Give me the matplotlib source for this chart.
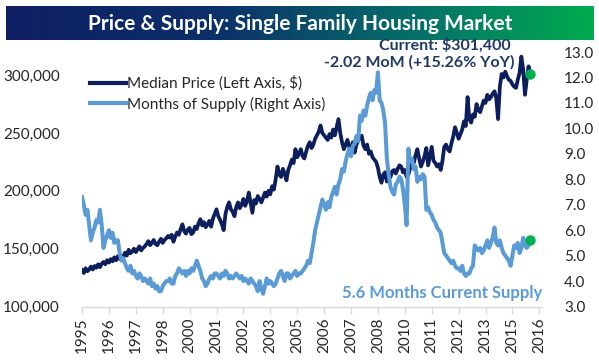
import numpy as np
import matplotlib
matplotlib.use("Agg")
import matplotlib.pyplot as plt
from matplotlib.colors import LinearSegmentedColormap
from matplotlib.lines import Line2D

plt.rcParams['font.family'] = ['Lato', 'DejaVu Sans']

# Monthly data, Jan 1995 .. Nov 2015
# Median price (thousands of $)
price_k = (
    [131.5, 129.0, 133.0, 130.5, 132.0, 134.5, 132.0, 135.0, 133.5, 136.5, 134.0, 137.0] +  # 1995
    [138.5, 136.5, 140.0, 138.0, 141.0, 139.0, 142.5, 140.0, 143.5, 141.0, 144.0, 142.5] +  # 1996
    [146.5, 144.0, 149.0, 146.0, 147.5, 150.0, 147.0, 149.5, 152.0, 148.5, 150.5, 152.0] +  # 1997
    [154.0, 156.5, 153.0, 155.0, 157.5, 154.0, 153.0, 156.0, 158.5, 155.0, 157.5, 159.0] +  # 1998
    [161.0, 159.5, 162.0, 156.0, 160.5, 164.0, 162.0, 167.0, 171.0, 165.0, 163.0, 166.5] +  # 1999
    [168.0, 162.5, 164.0, 169.0, 167.0, 172.0, 175.5, 170.0, 173.0, 168.5, 171.0, 174.0] +  # 2000
    [169.0, 176.0, 180.0, 184.0, 178.0, 175.0, 171.0, 166.0, 180.0, 186.0, 190.0, 184.0] +  # 2001
    [182.0, 178.0, 186.0, 190.0, 185.0, 188.0, 193.0, 187.0, 191.0, 198.5, 190.0, 181.0] +  # 2002
    [192.0, 189.0, 195.5, 193.0, 190.0, 194.0, 198.5, 195.0, 200.0, 197.0, 204.0, 201.0] +  # 2003
    [210.0, 221.0, 214.0, 212.0, 219.0, 215.0, 209.0, 218.0, 222.0, 227.0, 224.0, 236.0] +  # 2004
    [229.0, 232.0, 236.0, 230.0, 228.0, 234.0, 239.0, 242.0, 237.0, 240.0, 245.0, 248.0] +  # 2005
    [251.0, 256.5, 250.0, 248.0, 246.0, 244.0, 249.0, 246.0, 253.0, 248.0, 255.0, 262.0] +  # 2006
    [250.0, 242.0, 236.0, 240.0, 244.0, 238.0, 235.0, 242.0, 233.0, 240.0, 243.0, 247.0] +  # 2007
    [247.5, 239.0, 236.0, 240.0, 232.0, 234.0, 229.0, 227.0, 225.0, 220.0, 212.0, 207.0] +  # 2008
    [214.0, 216.0, 208.0, 210.0, 212.0, 217.0, 218.0, 215.0, 219.0, 222.0, 221.0, 216.0] +  # 2009
    [218.0, 212.0, 214.0, 220.0, 227.0, 224.0, 231.0, 236.0, 228.0, 221.0, 225.0, 230.0] +  # 2010
    [237.0, 222.0, 230.0, 238.0, 226.0, 224.0, 221.0, 223.0, 218.0, 226.0, 238.0, 240.0] +  # 2011
    [236.0, 234.0, 241.0, 247.0, 255.0, 250.0, 245.0, 249.0, 253.0, 260.0, 256.0, 281.0] +  # 2012
    [262.0, 259.0, 266.0, 264.0, 275.0, 270.0, 268.0, 273.0, 278.0, 276.0, 283.0, 279.0] +  # 2013
    [281.0, 284.0, 286.0, 280.0, 262.0, 290.0, 301.0, 298.0, 303.0, 299.0, 296.0, 295.0] +  # 2014
    [292.0, 290.0, 289.0, 296.0, 302.0, 316.0, 305.0, 283.0, 296.0, 307.6, 301.4]           # 2015
)

# Months of supply
supply = (
    [7.3, 7.0, 6.6, 6.8, 6.2, 5.6, 5.9, 6.1, 6.4, 6.3, 6.8, 6.2] +   # 1995
    [5.3, 5.6, 5.8, 6.0, 5.7, 5.9, 5.5, 5.6, 5.6, 5.1, 4.8, 4.9] +   # 1996
    [4.7, 4.5, 4.4, 4.6, 4.3, 4.4, 4.2, 4.1, 4.3, 4.2, 4.0, 4.1] +   # 1997
    [4.0, 3.9, 4.1, 3.8, 3.9, 3.7, 3.8, 3.6, 3.6, 3.8, 3.9, 4.0] +   # 1998
    [4.0, 4.1, 3.9, 3.9, 4.2, 4.3, 4.5, 4.4, 4.3, 4.4, 4.2, 4.4] +   # 1999
    [4.3, 4.5, 4.4, 4.6, 4.8, 4.6, 4.4, 4.1, 4.0, 3.8, 3.9, 4.1] +   # 2000
    [4.2, 4.1, 4.3, 4.3, 4.2, 4.1, 4.3, 4.2, 4.4, 4.3, 4.1, 4.2] +   # 2001
    [4.1, 4.2, 4.3, 4.2, 4.1, 4.2, 4.0, 4.1, 4.0, 3.9, 4.1, 4.0] +   # 2002
    [3.9, 3.8, 3.6, 4.0, 3.7, 3.5, 3.8, 4.1, 3.9, 4.0, 3.9, 3.8] +   # 2003
    [3.9, 4.1, 4.3, 4.4, 4.2, 4.0, 4.3, 4.3, 4.1, 4.2, 4.3, 4.4] +   # 2004
    [4.2, 4.3, 4.3, 4.4, 4.5, 4.6, 4.8, 4.7, 5.1, 5.5, 6.0, 6.3] +   # 2005
    [6.6, 6.9, 7.2, 7.0, 6.8, 7.1, 6.9, 7.3, 7.5, 7.7, 7.4, 7.8] +   # 2006
    [8.0, 8.4, 8.3, 8.7, 9.0, 9.2, 8.9, 9.3, 9.4, 9.7, 9.5, 10.5] +  # 2007
    [10.3, 10.7, 10.5, 10.9, 11.2, 11.4, 11.1, 11.5, 11.4, 12.2, 11.1, 11.0] +  # 2008
    [10.7, 10.2, 8.8, 8.2, 7.7, 7.5, 7.4, 7.8, 7.9, 8.1, 8.0, 7.6] +  # 2009
    [7.0, 6.2, 9.2, 8.7, 8.8, 8.4, 8.5, 7.9, 8.1, 8.0, 8.2, 8.1] +   # 2010
    [6.8, 6.9, 6.7, 6.6, 6.4, 6.3, 6.1, 6.0, 5.9, 5.5, 5.1, 5.0] +   # 2011
    [4.9, 4.8, 4.7, 4.8, 4.6, 4.5, 4.5, 4.4, 4.6, 4.3, 4.2, 4.3] +   # 2012
    [4.3, 4.5, 4.6, 5.4, 5.3, 5.2, 5.3, 5.1, 5.2, 5.4, 5.6, 5.3] +   # 2013
    [5.5, 5.7, 6.1, 5.5, 5.4, 5.6, 5.3, 5.1, 5.0, 4.9, 4.8, 4.6] +   # 2014
    [5.0, 5.4, 5.3, 5.5, 5.1, 5.3, 5.7, 5.4, 5.3, 5.4, 5.6]          # 2015
)

tick_labels = ['1995', '1996', '1997', '1998', '2000', '2001', '2002', '2003', '2005',
               '2006', '2007', '2008', '2010', '2011', '2012', '2013', '2015', '2016']
left_ticks = [100000, 150000, 200000, 250000, 300000]
right_ticks = [3.0, 4.0, 5.0, 6.0, 7.0, 8.0, 9.0, 10.0, 11.0, 12.0, 13.0]

title = "Price & Supply: Single Family Housing Market"
note_price_1 = "Current: $301,400"
note_price_2 = "-2.02 MoM (+15.26% YoY)"
note_supply = "5.6 Months Current Supply"

DARK = '#0c1f5c'
LIGHT = '#5b9bd5'
GREEN = '#00b050'
TXT = '#262626'

price = np.array(price_k) * 1000.0
supply = np.array(supply)
x = np.arange(len(price))

fig = plt.figure(figsize=(5.99, 3.63), dpi=100)
fig.patch.set_facecolor('white')

# Title banner with gradient
bax = fig.add_axes([6 / 599, 1 - 40 / 363, 588 / 599, 34 / 363])
cmap = LinearSegmentedColormap.from_list(
    'band', [(0, '#0f1f63'), (0.35, '#0c2f69'), (0.7, '#06706a'), (1, '#00ab4e')])
grad = np.linspace(0, 1, 512).reshape(1, -1)
bax.imshow(grad, aspect='auto', cmap=cmap, extent=[0, 1, 0, 1])
bax.set_axis_off()
bax.text(0.5, 0.48, title, color='white', fontsize=15, fontweight='bold',
         ha='center', va='center', transform=bax.transAxes)

L, R, B, T = 82 / 599, 542 / 599, 1 - 306.5 / 363, 1 - 52 / 363
ax = fig.add_axes([L, B, R - L, T - B])
ax2 = ax.twinx()

ax.plot(x, price, color=DARK, lw=2.7, solid_joinstyle='round', zorder=3)
ax2.plot(x, supply, color=LIGHT, lw=2.9, solid_joinstyle='round', zorder=3)
ax.scatter([x[-1]], [price[-1]], s=42, color=GREEN, zorder=5)
ax2.scatter([x[-1]], [supply[-1]], s=42, color=GREEN, zorder=5)

ax.set_xlim(0, 256.5)
ax.set_ylim(100000, 320000)
ax2.set_ylim(3.0, 13.0)

ax.set_yticks(left_ticks)
ax.set_yticklabels([f"{v:,}" for v in left_ticks])
ax2.set_yticks(right_ticks)
ax2.set_yticklabels([f"{v:.1f}" for v in right_ticks])

tick_pos = np.arange(len(tick_labels)) * 15
ax.set_xticks(tick_pos)
ax.set_xticklabels(tick_labels, rotation=90)

for a in (ax, ax2):
    for s in ('top', 'left', 'right', 'bottom'):
        a.spines[s].set_visible(False)
ax.spines['bottom'].set_visible(True)
ax.spines['bottom'].set_color('#d9d9d9')
ax.spines['bottom'].set_linewidth(1.0)

ax.tick_params(axis='x', colors='#d9d9d9', length=5, width=1.0, labelcolor=TXT,
               labelsize=11, pad=3)
ax.tick_params(axis='y', length=0, labelsize=11, labelcolor=TXT, pad=16)
ax2.tick_params(axis='y', length=0, labelsize=11, labelcolor=TXT, pad=16)

handles = [Line2D([0], [0], color=DARK, lw=3),
           Line2D([0], [0], color=LIGHT, lw=3)]
leg = ax.legend(handles, ['Median Price (Left Axis, $)', 'Months of Supply (Right Axis)'],
                loc='upper left', bbox_to_anchor=(0.005, 0.93), frameon=False,
                fontsize=11, handlelength=2.3, handletextpad=0.1, labelspacing=0.35,
                borderaxespad=0)
for t in leg.get_texts():
    t.set_color(TXT)

fig.text(445 / 599, 1 - 45 / 363, note_price_1, color='#1f3864', fontsize=11.5,
         fontweight='bold', ha='center', va='center')
fig.text(515 / 599, 1 - 62 / 363, note_price_2, color='#1f3864', fontsize=11.5,
         fontweight='bold', ha='right', va='center')
fig.text(542 / 599, 1 - 293 / 363, note_supply, color=LIGHT, fontsize=12,
         fontweight='bold', ha='right', va='center')

fig.savefig('out.png', dpi=100, facecolor='white')
